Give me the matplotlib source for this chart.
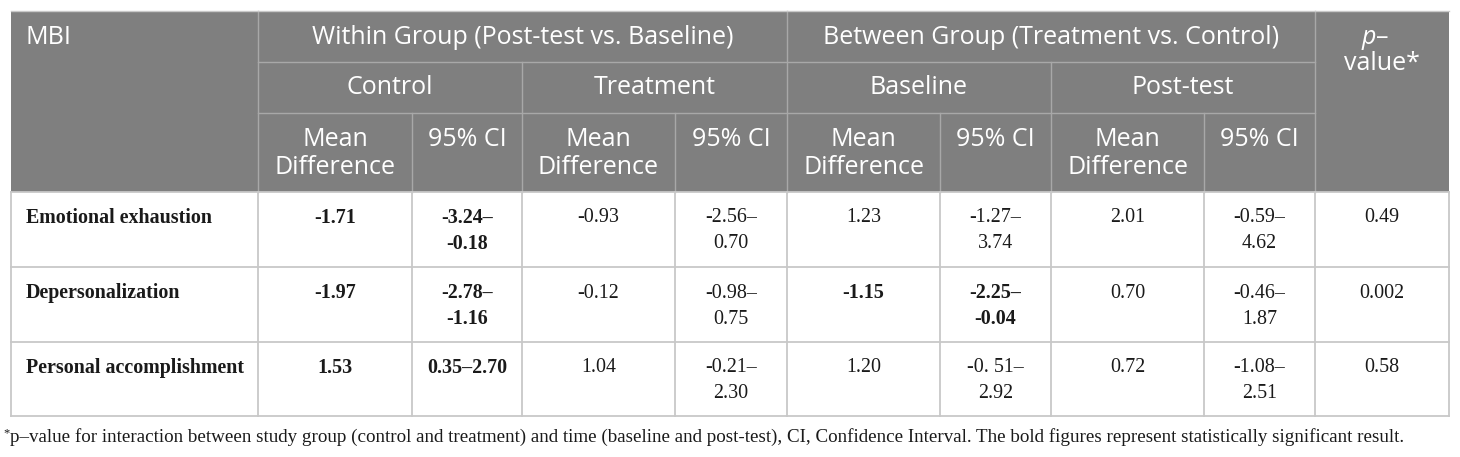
import matplotlib.pyplot as plt
from matplotlib.patches import Rectangle

# table contents
mbi_rows = ["Emotional exhaustion", "Depersonalization", "Personal accomplishment"]
ctrl_md = ["-1.71", "-1.97", "1.53"]
ctrl_ci = ["-3.24–\n-0.18", "-2.78–\n-1.16", "0.35–2.70"]
trt_md = ["-0.93", "-0.12", "1.04"]
trt_ci = ["-2.56–\n0.70", "-0.98–\n0.75", "-0.21–\n2.30"]
base_md = ["1.23", "-1.15", "1.20"]
base_ci = ["-1.27–\n3.74", "-2.25–\n-0.04", "-0. 51–\n2.92"]
post_md = ["2.01", "0.70", "0.72"]
post_ci = ["-0.59–\n4.62", "-0.46–\n1.87", "-1.08–\n2.51"]
p_values = ["0.49", "0.002", "0.58"]
# which cells are bold (significant)
ctrl_bold = [True, True, True]
trt_bold = [False, False, False]
base_bold = [False, True, False]
post_bold = [False, False, False]

group_titles = ["Within Group (Post-test vs. Baseline)", "Between Group (Treatment vs. Control)"]
sub_titles = ["Control", "Treatment", "Baseline", "Post-test"]
footnote = ("p–value for interaction between study group (control and treatment) and time "
            "(baseline and post-test), CI, Confidence Interval. The bold figures represent "
            "statistically significant result.")

# layout in pixels
W, H = 1460, 457
col_x = [11, 258, 412, 522, 675, 787, 940, 1051, 1204, 1315, 1449]
row_y = [11, 62, 113, 192, 267, 342, 416]
head_col = "#7f7f7f"
head_line = "#a8a8a8"
body_line = "#c8c8c8"
txt_col = "#1a1a1a"
sans = "Open Sans"
serif = "Liberation Serif"
hsize = 18
bsize = 14.4

fig = plt.figure(figsize=(W / 100, H / 100), dpi=100)
ax = fig.add_axes([0, 0, 1, 1])
ax.set_xlim(0, W)
ax.set_ylim(H, 0)
ax.axis("off")

# header background
ax.add_patch(Rectangle((col_x[0], row_y[0]), col_x[-1] - col_x[0], row_y[3] - row_y[0],
                       facecolor=head_col, edgecolor="none"))

# header grid lines
ax.plot([col_x[1], col_x[9]], [row_y[1], row_y[1]], color=head_line, lw=1)
ax.plot([col_x[1], col_x[9]], [row_y[2], row_y[2]], color=head_line, lw=1)
for i in [1, 9]:
    ax.plot([col_x[i], col_x[i]], [row_y[0], row_y[3]], color=head_line, lw=1)
ax.plot([col_x[5], col_x[5]], [row_y[0], row_y[3]], color=head_line, lw=1)
for i in [3, 7]:
    ax.plot([col_x[i], col_x[i]], [row_y[1], row_y[3]], color=head_line, lw=1)
for i in [2, 4, 6, 8]:
    ax.plot([col_x[i], col_x[i]], [row_y[2], row_y[3]], color=head_line, lw=1)

# body grid lines
for y in row_y[3:]:
    ax.plot([col_x[0], col_x[-1]], [y, y], color=body_line, lw=1.3)
for x in col_x:
    ax.plot([x, x], [row_y[3], row_y[-1]], color=body_line, lw=1.3)
ax.plot([col_x[0], col_x[-1]], [row_y[0], row_y[0]], color=body_line, lw=1)

# header text
ax.text(26, 37, "MBI", ha="left", va="center", color="white", fontsize=hsize, family=sans)
for k, t in enumerate(group_titles):
    cx = (col_x[1 + 4 * k] + col_x[5 + 4 * k]) / 2
    ax.text(cx, 37, t, ha="center", va="center", color="white", fontsize=hsize, family=sans)
for k, t in enumerate(sub_titles):
    cx = (col_x[1 + 2 * k] + col_x[3 + 2 * k]) / 2
    ax.text(cx, 88, t, ha="center", va="center", color="white", fontsize=hsize, family=sans)
for k in range(4):
    c0, c1, c2 = col_x[1 + 2 * k], col_x[2 + 2 * k], col_x[3 + 2 * k]
    ax.text((c0 + c1) / 2, 140, "Mean", ha="center", va="center", color="white",
            fontsize=hsize, family=sans)
    ax.text((c0 + c1) / 2, 168, "Difference", ha="center", va="center", color="white",
            fontsize=hsize, family=sans)
    ax.text((c1 + c2) / 2, 140, "95% CI", ha="center", va="center", color="white",
            fontsize=hsize, family=sans)
pcx = (col_x[9] + col_x[10]) / 2
ax.text(pcx - 6, 37, "p", ha="right", va="center", color="white", fontsize=hsize,
        family=sans, style="italic")
ax.text(pcx - 6, 37, "–", ha="left", va="center", color="white", fontsize=hsize, family=sans)
ax.text(pcx, 64, "value*", ha="center", va="center", color="white", fontsize=hsize, family=sans)

# body text
columns = [(ctrl_md, ctrl_bold), (ctrl_ci, ctrl_bold), (trt_md, trt_bold), (trt_ci, trt_bold),
           (base_md, base_bold), (base_ci, base_bold), (post_md, post_bold), (post_ci, post_bold),
           (p_values, [False] * 3)]
for r, name in enumerate(mbi_rows):
    top = row_y[3 + r]
    ax.text(26, top + 26, name, ha="left", va="center", fontsize=bsize, family=serif,
            weight="bold", color=txt_col)
    for c, (vals, bold) in enumerate(columns):
        cx = (col_x[1 + c] + col_x[2 + c]) / 2
        for j, line in enumerate(vals[r].split("\n")):
            ax.text(cx, top + 26 + j * 26, line, ha="center", va="center", fontsize=bsize,
                    family=serif, weight="bold" if bold[r] else "normal", color=txt_col)

# footnote
ax.text(3, 433, "*", ha="left", va="center", fontsize=9, family=serif, color=txt_col)
ax.text(10, 437, footnote, ha="left", va="center", fontsize=13.7, family=serif, color=txt_col)

fig.savefig("out.png", dpi=100)
